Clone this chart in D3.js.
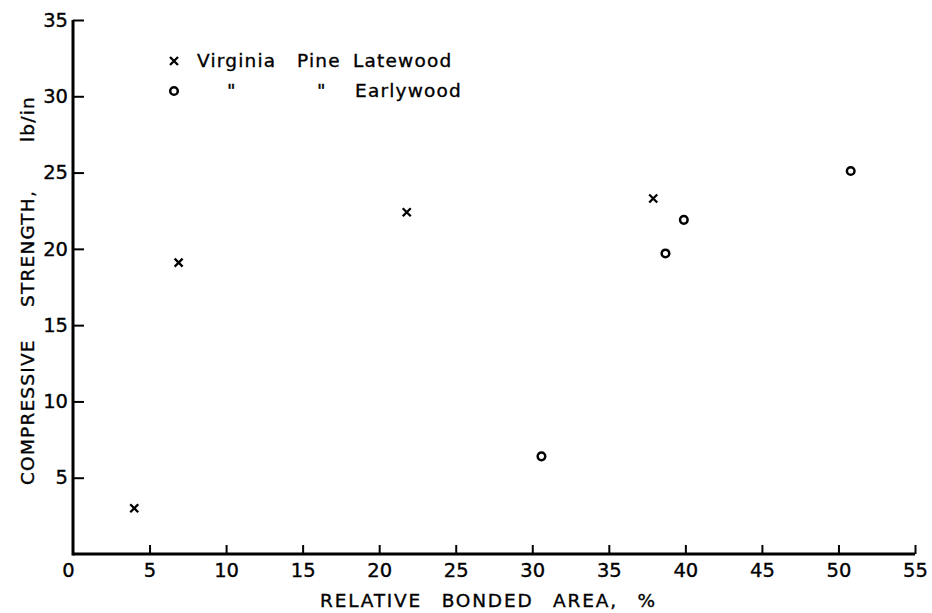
<!DOCTYPE html>
<html>
<head>
<meta charset="utf-8">
<script src="https://cdn.jsdelivr.net/npm/d3@7"></script>
<style>
  html, body { margin: 0; padding: 0; background: #fff; }
  svg { display: block; }
  text { font-family: "DejaVu Sans", sans-serif; fill: #000; stroke: #000; stroke-width: 0.35px; }
</style>
</head>
<body>
<svg id="chart" width="932" height="613"></svg>
<script>
// Virginia pine: compressive strength vs relative bonded area
const latewoodArea = [4.0, 6.9, 21.8, 37.9];
const latewoodStrength = [3.0, 19.1, 22.4, 23.3];
const earlywoodArea = [30.6, 38.7, 39.9, 50.8];
const earlywoodStrength = [6.4, 19.7, 21.9, 25.1];

const xTicks = [0, 5, 10, 15, 20, 25, 30, 35, 40, 45, 50, 55];
const yTicks = [5, 10, 15, 20, 25, 30, 35];

const legendRows = [
  { symbol: "x", parts: ["Virginia", "Pine", "Latewood"] },
  { symbol: "o", parts: ["\"", "\"", "Earlywood"] }
];

const yTitleWords = ["COMPRESSIVE", "STRENGTH,", "lb/in"];

const svg = d3.select("#chart");

const x = d3.scaleLinear().domain([0, 55]).range([73, 915]);
const y = d3.scaleLinear().domain([0, 35]).range([554, 20]);

// x axis: ticks point into the plot
const xAxis = d3.axisBottom(x)
  .tickValues(xTicks)
  .tickSizeInner(-9)
  .tickSizeOuter(0)
  .tickPadding(9)
  .tickFormat(d3.format("d"));

const gx = svg.append("g")
  .attr("transform", `translate(0,${y(0)})`)
  .call(xAxis);
gx.select(".domain").remove();
gx.selectAll(".tick line").attr("stroke", "#000").attr("stroke-width", 2);
gx.selectAll(".tick text")
  .attr("font-size", 19.5)
  .attr("font-family", "DejaVu Sans, sans-serif")
  .attr("dx", d => d === 0 ? -5 : 0);
gx.selectAll(".tick").filter(d => d === 0).select("line").remove();

// y axis
const yAxis = d3.axisLeft(y)
  .tickValues(yTicks)
  .tickSizeInner(-11)
  .tickSizeOuter(0)
  .tickPadding(5)
  .tickFormat(d3.format("d"));

const gy = svg.append("g")
  .attr("transform", `translate(${x(0)},0)`)
  .call(yAxis);
gy.select(".domain").remove();
gy.selectAll(".tick line").attr("stroke", "#000").attr("stroke-width", 2);
gy.selectAll(".tick text")
  .attr("font-size", 19.5)
  .attr("font-family", "DejaVu Sans, sans-serif");

// heavy axis lines
svg.append("line")
  .attr("x1", x(0)).attr("x2", x(55))
  .attr("y1", y(0)).attr("y2", y(0))
  .attr("stroke", "#000").attr("stroke-width", 3);
svg.append("line")
  .attr("x1", x(0)).attr("x2", x(0))
  .attr("y1", y(0) + 1.5).attr("y2", y(35))
  .attr("stroke", "#000").attr("stroke-width", 3);

// axis titles
svg.append("text")
  .attr("x", 320).attr("y", 607)
  .attr("font-size", 18.5)
  .attr("letter-spacing", 1.8)
  .attr("word-spacing", 12)
  .text("RELATIVE BONDED AREA, %");

const yTitleStart = [485, 307, 142];
yTitleWords.forEach((w, i) => {
  svg.append("text")
    .attr("transform", `translate(34,${yTitleStart[i]}) rotate(-90)`)
    .attr("font-size", 18.5)
    .attr("letter-spacing", 1.2)
    .text(w);
});

// markers
const cross = (g, px, py, s) => {
  g.append("path")
    .attr("d", `M${px - s},${py - s}L${px + s},${py + s}M${px - s},${py + s}L${px + s},${py - s}`)
    .attr("stroke", "#000").attr("stroke-width", 2.3).attr("fill", "none");
};
const ring = (g, px, py) => {
  g.append("circle")
    .attr("cx", px).attr("cy", py).attr("r", 3.8)
    .attr("stroke", "#000").attr("stroke-width", 2.5).attr("fill", "none");
};

const pts = svg.append("g");
latewoodArea.forEach((a, i) => cross(pts, x(a), y(latewoodStrength[i]), 4));
earlywoodArea.forEach((a, i) => ring(pts, x(a), y(earlywoodStrength[i])));

// legend
const legend = svg.append("g");
const wordX = [[197, 297, 353], [227, 317, 355]];
const rowY = [67, 97];
legendRows.forEach((row, r) => {
  const cy = rowY[r] - 6;
  if (row.symbol === "x") cross(legend, 174, cy, 4);
  else ring(legend, 174, cy);
  row.parts.forEach((w, k) => {
    legend.append("text")
      .attr("x", wordX[r][k]).attr("y", rowY[r])
      .attr("font-size", 18.5)
      .attr("letter-spacing", 1.2)
      .text(w);
  });
});
</script>
</body>
</html>
